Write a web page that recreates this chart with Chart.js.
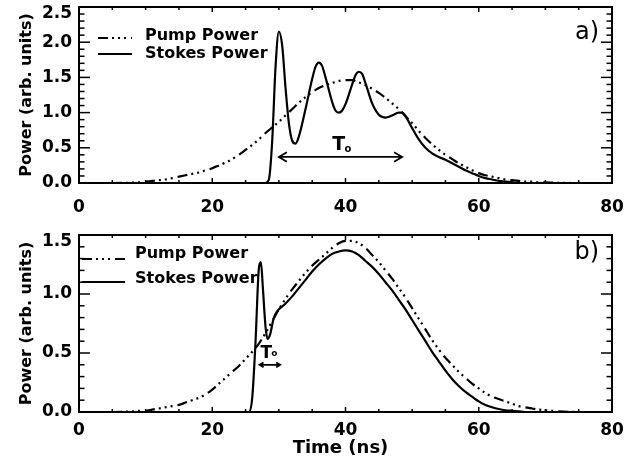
<!DOCTYPE html>
<html>
<head>
<meta charset="utf-8">
<script src="https://cdn.jsdelivr.net/npm/chart.js@4.4.0/dist/chart.umd.min.js"></script>
<style>
  body { margin: 0; background: #fff; }
  canvas { position: absolute; left: 0; }
  #chartA { top: 0; }
  #chartB { top: 222px; }
</style>
</head>
<body>
<canvas id="chartA" width="634" height="222"></canvas>
<canvas id="chartB" width="634" height="248"></canvas>
<script>
// ---- data ----
var xTicks = [0, 20, 40, 60, 80];
var yTicksA = [0, 0.5, 1.0, 1.5, 2.0, 2.5];
var yTicksB = [0, 0.5, 1.0, 1.5];
var seriesLabels = ['Pump Power', 'Stokes Power'];

// panel a)
var pumpTimeA = [0, 5, 8, 9, 10, 11, 12, 13, 14, 15, 16, 17, 18, 19, 20, 21, 22, 23, 24, 25, 26, 27, 28, 29,
  30, 31, 32, 33, 34, 35, 36, 37, 38, 39, 40, 41, 42, 43, 44, 45, 46, 47, 48, 49, 50, 51, 52, 53, 54,
  55, 56, 57, 58, 59, 60, 61, 62, 63, 64, 65, 66, 67, 68, 69, 70, 71, 75, 80];
var pumpA = [0, 0, 0.005, 0.01, 0.02, 0.03, 0.04, 0.05, 0.07, 0.09, 0.11, 0.13, 0.15, 0.18, 0.21, 0.25, 0.29,
  0.34, 0.40, 0.47, 0.54, 0.62, 0.71, 0.79, 0.87, 0.96, 1.05, 1.14, 1.22, 1.29, 1.35, 1.39, 1.42, 1.45,
  1.46, 1.46, 1.43, 1.39, 1.34, 1.28, 1.21, 1.13, 1.05, 0.95, 0.85, 0.74, 0.64, 0.55, 0.47, 0.40, 0.34,
  0.28, 0.23, 0.18, 0.14, 0.11, 0.09, 0.07, 0.05, 0.04, 0.03, 0.02, 0.02, 0.01, 0.01, 0.005, 0, 0];
var stokesTimeA = [0, 20, 28, 28.5, 29, 29.5, 30, 30.5, 31, 31.5, 32, 32.5, 33, 34, 35, 35.5, 36, 36.5, 37,
  38, 38.5, 39, 39.5, 40, 41, 41.5, 42, 42.5, 43, 44, 45, 46, 47, 48, 48.5, 49, 50, 51, 52, 53, 54, 55,
  56, 57, 58, 59, 60, 61, 62, 63, 64, 65, 66, 80];
var stokesA = [0, 0, 0, 0.05, 0.6, 1.65, 2.15, 1.95, 1.35, 0.85, 0.6, 0.56, 0.66, 1.05, 1.48, 1.65, 1.71,
  1.66, 1.5, 1.15, 1.03, 1.0, 1.03, 1.12, 1.4, 1.53, 1.58, 1.55, 1.42, 1.13, 0.97, 0.93, 0.96, 1.0, 1.0,
  0.95, 0.78, 0.62, 0.5, 0.42, 0.37, 0.33, 0.28, 0.23, 0.18, 0.14, 0.1, 0.07, 0.05, 0.03, 0.02, 0.01, 0, 0];

// panel b)
var pumpTimeB = [0, 5, 8, 9, 10, 11, 12, 13, 14, 15, 16, 17, 18, 19, 20, 21, 22, 23, 24, 25, 26, 27, 28, 29,
  30, 31, 32, 33, 34, 35, 36, 37, 38, 39, 40, 41, 42, 43, 44, 45, 46, 47, 48, 49, 50, 51, 52, 53, 54,
  55, 56, 57, 58, 59, 60, 61, 62, 63, 64, 65, 66, 67, 68, 69, 70, 71, 72, 75, 80];
var pumpB = [0, 0, 0.005, 0.01, 0.01, 0.02, 0.03, 0.04, 0.05, 0.06, 0.08, 0.10, 0.12, 0.15, 0.19, 0.24, 0.29,
  0.34, 0.39, 0.45, 0.51, 0.58, 0.67, 0.77, 0.87, 0.96, 1.04, 1.11, 1.18, 1.24, 1.29, 1.34, 1.39, 1.43,
  1.45, 1.45, 1.43, 1.39, 1.33, 1.27, 1.20, 1.13, 1.05, 0.97, 0.88, 0.79, 0.70, 0.61, 0.53, 0.46, 0.40,
  0.34, 0.29, 0.24, 0.20, 0.16, 0.13, 0.11, 0.09, 0.07, 0.05, 0.04, 0.03, 0.02, 0.015, 0.01, 0.005, 0, 0];
var stokesTimeB = [0, 20, 25.5, 26, 26.5, 27, 27.3, 27.6, 28, 28.3, 28.7, 29.2, 29.7, 30, 31, 32, 33, 34, 35,
  36, 37, 38, 39, 40, 41, 42, 43, 44, 45, 46, 47, 48, 49, 50, 51, 52, 53, 54, 55, 56, 57, 58, 59, 60,
  61, 62, 63, 64, 65, 66, 67, 80];
var stokesB = [0, 0, 0, 0.12, 0.6, 1.22, 1.27, 1.05, 0.72, 0.62, 0.66, 0.79, 0.85, 0.87, 0.92, 0.98, 1.05,
  1.12, 1.19, 1.25, 1.30, 1.34, 1.36, 1.37, 1.36, 1.33, 1.28, 1.23, 1.17, 1.10, 1.03, 0.95, 0.87, 0.78,
  0.69, 0.60, 0.51, 0.43, 0.35, 0.28, 0.22, 0.17, 0.13, 0.09, 0.06, 0.04, 0.025, 0.015, 0.01, 0.005, 0, 0];

// ---- styling ----
var fontFamily = '"DejaVu Sans", sans-serif';
var pumpDash = [10, 4, 2, 4, 2, 4, 2, 5];

function toPoints(times, values) {
  return times.map(function (t, i) { return { x: t, y: values[i] }; });
}

function line(ctx, x1, y1, x2, y2) {
  ctx.beginPath();
  ctx.moveTo(x1, y1);
  ctx.lineTo(x2, y2);
  ctx.stroke();
}

function label(ctx, text, x, y, size, align, weight) {
  ctx.font = (weight || 'bold') + ' ' + size + 'px ' + fontFamily;
  ctx.textAlign = align;
  ctx.textBaseline = 'alphabetic';
  ctx.fillText(text, x, y);
}

function doubleArrow(ctx, x1, x2, y, head) {
  ctx.beginPath();
  ctx.moveTo(x1, y); ctx.lineTo(x2, y);
  ctx.moveTo(x1 + head, y - head * 0.6); ctx.lineTo(x1, y); ctx.lineTo(x1 + head, y + head * 0.6);
  ctx.moveTo(x2 - head, y - head * 0.6); ctx.lineTo(x2, y); ctx.lineTo(x2 - head, y + head * 0.6);
  ctx.stroke();
}

// IDL-like frame: box, inward ticks on all sides, legend, labels
var idlPlugin = {
  id: 'idl',
  afterDraw: function (chart, args, o) {
    var ctx = chart.ctx, a = chart.chartArea;
    var xs = chart.scales.x, ys = chart.scales.y;
    ctx.save();
    ctx.strokeStyle = '#000';
    ctx.fillStyle = '#000';

    // frame
    ctx.lineWidth = 2;
    ctx.strokeRect(a.left, a.top, a.right - a.left, a.bottom - a.top);

    // ticks
    ctx.lineWidth = 1.5;
    var i, v, p, len;
    for (i = 0; ; i++) {
      v = xs.min + i * 5;
      if (v > xs.max + 1e-6) break;
      p = xs.getPixelForValue(v);
      len = i % 4 === 0 ? 5 : 3;
      line(ctx, p, a.bottom, p, a.bottom - len);
      line(ctx, p, a.top, p, a.top + len);
    }
    for (i = 0; ; i++) {
      v = ys.min + i * 0.1;
      if (v > ys.max + 1e-6) break;
      p = ys.getPixelForValue(v);
      len = i % 5 === 0 ? 11 : 5.5;
      line(ctx, a.left, p, a.left + len, p);
      line(ctx, a.right, p, a.right - len, p);
    }

    // legend
    var lg = o.legend;
    ctx.lineWidth = 2.2;
    chart.data.datasets.forEach(function (ds, k) {
      var ly = a.top + lg.lineY[k];
      ctx.setLineDash(ds.borderDash || []);
      line(ctx, a.left + lg.x1, ly, a.left + lg.x2, ly);
      ctx.setLineDash([]);
      label(ctx, ds.label, a.left + lg.textX, a.top + lg.textY[k], 16, 'left');
    });

    // panel tag
    label(ctx, o.tag, a.right - 13, a.top + o.tagY, 24, 'right', 'normal');

    // T0 arrow + label
    var ar = o.arrow;
    ctx.lineWidth = 1.8;
    doubleArrow(ctx, xs.getPixelForValue(ar.from), xs.getPixelForValue(ar.to), ys.getPixelForValue(ar.y), ar.head);
    var tx = xs.getPixelForValue(ar.labelX), ty = ys.getPixelForValue(ar.labelY);
    label(ctx, 'T', tx, ty, ar.size, 'center');
    label(ctx, 'o', tx + ar.size * 0.3, ty + ar.subDy, Math.round(ar.size * 0.55), 'left');

    // axis titles
    ctx.save();
    ctx.translate(31, (a.top + a.bottom) / 2);
    ctx.rotate(-Math.PI / 2);
    label(ctx, 'Power (arb. units)', 0, 0, 16, 'center');
    ctx.restore();
    if (o.xTitle) {
      label(ctx, o.xTitle, (a.left + a.right) / 2 - 5, a.bottom + 41, 18, 'center');
    }
    ctx.restore();
  }
};

function makePanel(id, c) {
  var yMax = c.yTicks[c.yTicks.length - 1];
  return new Chart(document.getElementById(id), {
    type: 'line',
    data: {
      datasets: [{
        label: seriesLabels[0],
        data: toPoints(c.pumpTime, c.pump),
        borderColor: '#000',
        borderWidth: 2.2,
        borderDash: pumpDash,
        pointRadius: 0,
        cubicInterpolationMode: 'monotone',
        fill: false
      }, {
        label: seriesLabels[1],
        data: toPoints(c.stokesTime, c.stokes),
        borderColor: '#000',
        borderWidth: 2.2,
        pointRadius: 0,
        cubicInterpolationMode: 'monotone',
        fill: false
      }]
    },
    options: {
      responsive: false,
      animation: false,
      devicePixelRatio: 1,
      layout: { padding: { top: c.top, right: 22, left: 0, bottom: 0 } },
      plugins: {
        legend: { display: false },
        tooltip: { enabled: false },
        idl: c.idl
      },
      scales: {
        x: {
          type: 'linear',
          min: 0,
          max: 80,
          afterBuildTicks: function (s) { s.ticks = xTicks.map(function (v) { return { value: v }; }); },
          afterFit: function (s) { s.height = c.xHeight; s.paddingLeft = 0; s.paddingRight = 0; },
          grid: { display: false, drawTicks: false },
          border: { display: false },
          ticks: { color: '#000', font: { family: fontFamily, size: 17, weight: 'bold' }, padding: c.xPad, maxRotation: 0 }
        },
        y: {
          min: 0,
          max: yMax,
          afterBuildTicks: function (s) { s.ticks = c.yTicks.map(function (v) { return { value: v }; }); },
          afterFit: function (s) { s.width = 79; s.paddingTop = 0; s.paddingBottom = 0; },
          grid: { display: false, drawTicks: false },
          border: { display: false },
          ticks: {
            color: '#000', font: { family: fontFamily, size: 17, weight: 'bold', lineHeight: '14px' }, padding: 7,
            // top label sits just inside the frame, as in the original
            callback: function (v) {
              var s = Number(v).toFixed(1);
              return v >= yMax ? ['', s] : s;
            }
          }
        }
      }
    },
    plugins: [idlPlugin]
  });
}

makePanel('chartA', {
  pumpTime: pumpTimeA, pump: pumpA, stokesTime: stokesTimeA, stokes: stokesA,
  yTicks: yTicksA, top: 7, xHeight: 39, xPad: 14,
  idl: {
    legend: { x1: 19, x2: 53, textX: 66, lineY: [31, 47], textY: [33, 51] },
    tag: 'a)', tagY: 32,
    arrow: { from: 30.0, to: 48.5, y: 0.37, head: 8, labelX: 39.0, labelY: 0.47, size: 19, subDy: 2 }
  }
});

makePanel('chartB', {
  pumpTime: pumpTimeB, pump: pumpB, stokesTime: stokesTimeB, stokes: stokesB,
  yTicks: yTicksB, top: 13, xHeight: 58, xPad: 8,
  idl: {
    legend: { x1: 3, x2: 46, textX: 56, lineY: [24, 47], textY: [23, 48] },
    tag: 'b)', tagY: 24,
    arrow: { from: 27.1, to: 30.2, y: 0.40, head: 4, labelX: 28.1, labelY: 0.46, size: 17, subDy: -2 },
    xTitle: 'Time (ns)'
  }
});
</script>
</body>
</html>
